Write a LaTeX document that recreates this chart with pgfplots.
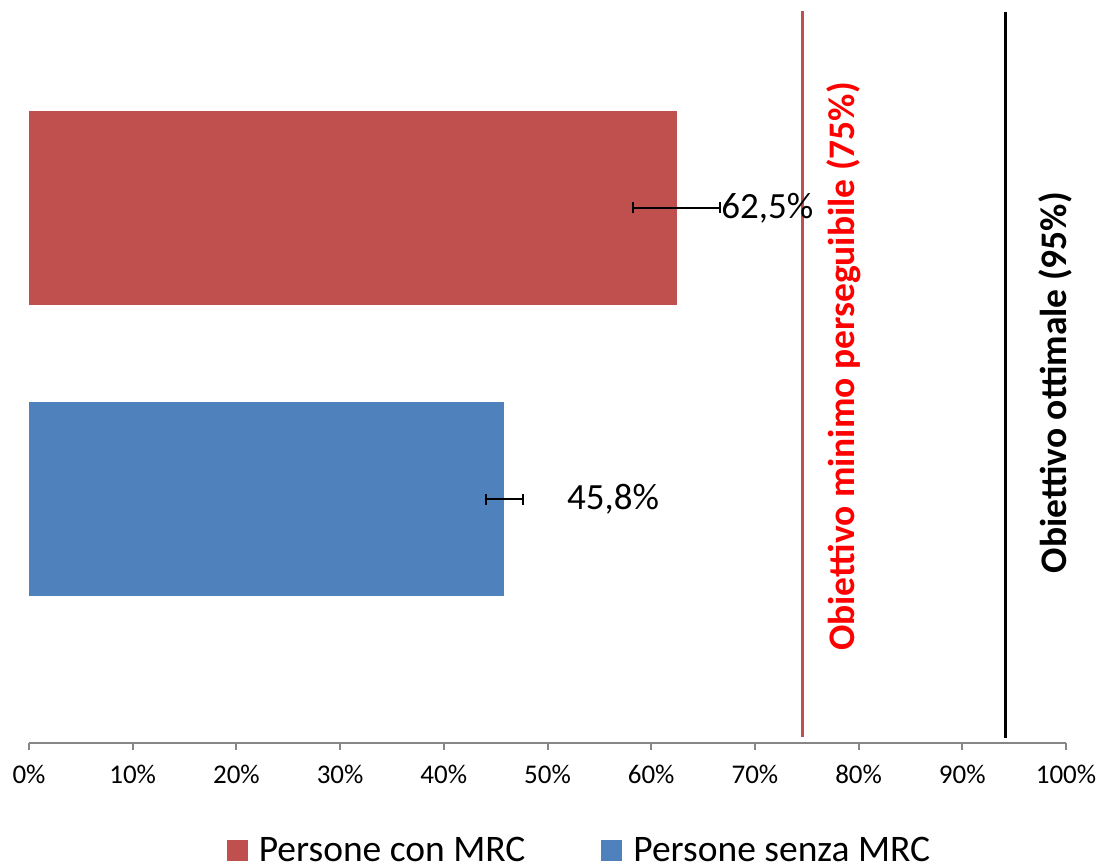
\documentclass[border=0pt]{standalone}
\usepackage{pgfplots}
\pgfplotsset{compat=1.18}
\usepackage{fontspec}
\setmainfont{Carlito}
\definecolor{redbar}{HTML}{C0504D}
\definecolor{bluebar}{HTML}{4F81BD}
\definecolor{axgrey}{HTML}{868686}
\begin{document}
\begin{tikzpicture}[x=1pt,y=1pt]
\useasboundingbox (0,0) rectangle (1102,864);
\begin{axis}[
  at={(29pt,121pt)}, anchor=south west,
  scale only axis, width=1037pt, height=733pt,
  xmin=0, xmax=100, ymin=0.1647, ymax=2.679,
  axis x line*=bottom, axis y line=none,
  x axis line style={draw=axgrey, line width=2pt, -},
  xtick={0,10,...,100},
  xticklabel={\pgfmathprintnumber{\tick}\%},
  tick style={draw=axgrey, line width=2pt},
  tick align=outside, major tick length=7pt,
  ytick=\empty,
  /pgf/number format/assume math mode=true,
  xticklabel style={font=\fontsize{27}{33}\selectfont, text=black, yshift=-12pt},
  clip=false,
  legend columns=2,
  legend style={draw=none, fill=none, at={(0.5299,-0.1463)}, anchor=center,
    font=\fontsize{37.5}{44}\selectfont,
    nodes={inner sep=0pt},
    /tikz/every odd column/.append style={column sep=11pt},
    /tikz/every even column/.append style={column sep=76pt}},
]
\addplot[xbar, bar width=194pt, bar shift=0pt, fill=redbar, draw=none,
  legend image code/.code={\fill[redbar] (0pt,-10.5pt) rectangle (21pt,10.5pt);},
  nodes near coords={\pgfmathprintnumber[fixed,precision=1,fixed zerofill,use comma]{\pgfplotspointmeta}\%},
  point meta=x,
  every node near coord/.append style={anchor=west, inner sep=0pt, xshift=44pt, font=\fontsize{37}{44}\selectfont, text=black},
  error bars/.cd, x dir=both, x explicit, error mark=|,
  error bar style={black, line width=2pt},
  error mark options={black, line width=2pt, mark size=5.5pt}]
  coordinates {(62.5,2) += (4.13,0) -= (4.23,0)};
\addlegendentry{Persone con MRC}
\addplot[xbar, bar width=194pt, bar shift=0pt, fill=bluebar, draw=none,
  legend image code/.code={\fill[bluebar] (0pt,-10.5pt) rectangle (21pt,10.5pt);},
  nodes near coords={\pgfmathprintnumber[fixed,precision=1,fixed zerofill,use comma]{\pgfplotspointmeta}\%},
  point meta=x,
  every node near coord/.append style={anchor=west, inner sep=0pt, xshift=63pt, font=\fontsize{37}{44}\selectfont, text=black},
  error bars/.cd, x dir=both, x explicit, error mark=|,
  error bar style={black, line width=2pt},
  error mark options={black, line width=2pt, mark size=5.5pt}]
  coordinates {(45.8,1) += (1.8,0) -= (1.76,0)};
\addlegendentry{Persone senza MRC}
\addplot[draw=redbar, line width=3pt, forget plot] coordinates {(74.6,0.1852) (74.6,2.6756)};
\addplot[draw=black, line width=2.5pt, forget plot] coordinates {(94.15,0.1818) (94.15,2.6714)};
\node[rotate=90, anchor=base, text=red, font=\bfseries\fontsize{37.5}{44}\selectfont, inner sep=0pt]
  at (axis cs:79.65,1.456) {Obiettivo minimo perseguibile (75\%)};
\node[rotate=90, anchor=base, text=black, font=\bfseries\fontsize{37.5}{44}\selectfont, inner sep=0pt]
  at (axis cs:100.07,1.401) {Obiettivo ottimale (95\%)};
\end{axis}
\end{tikzpicture}
\end{document}
